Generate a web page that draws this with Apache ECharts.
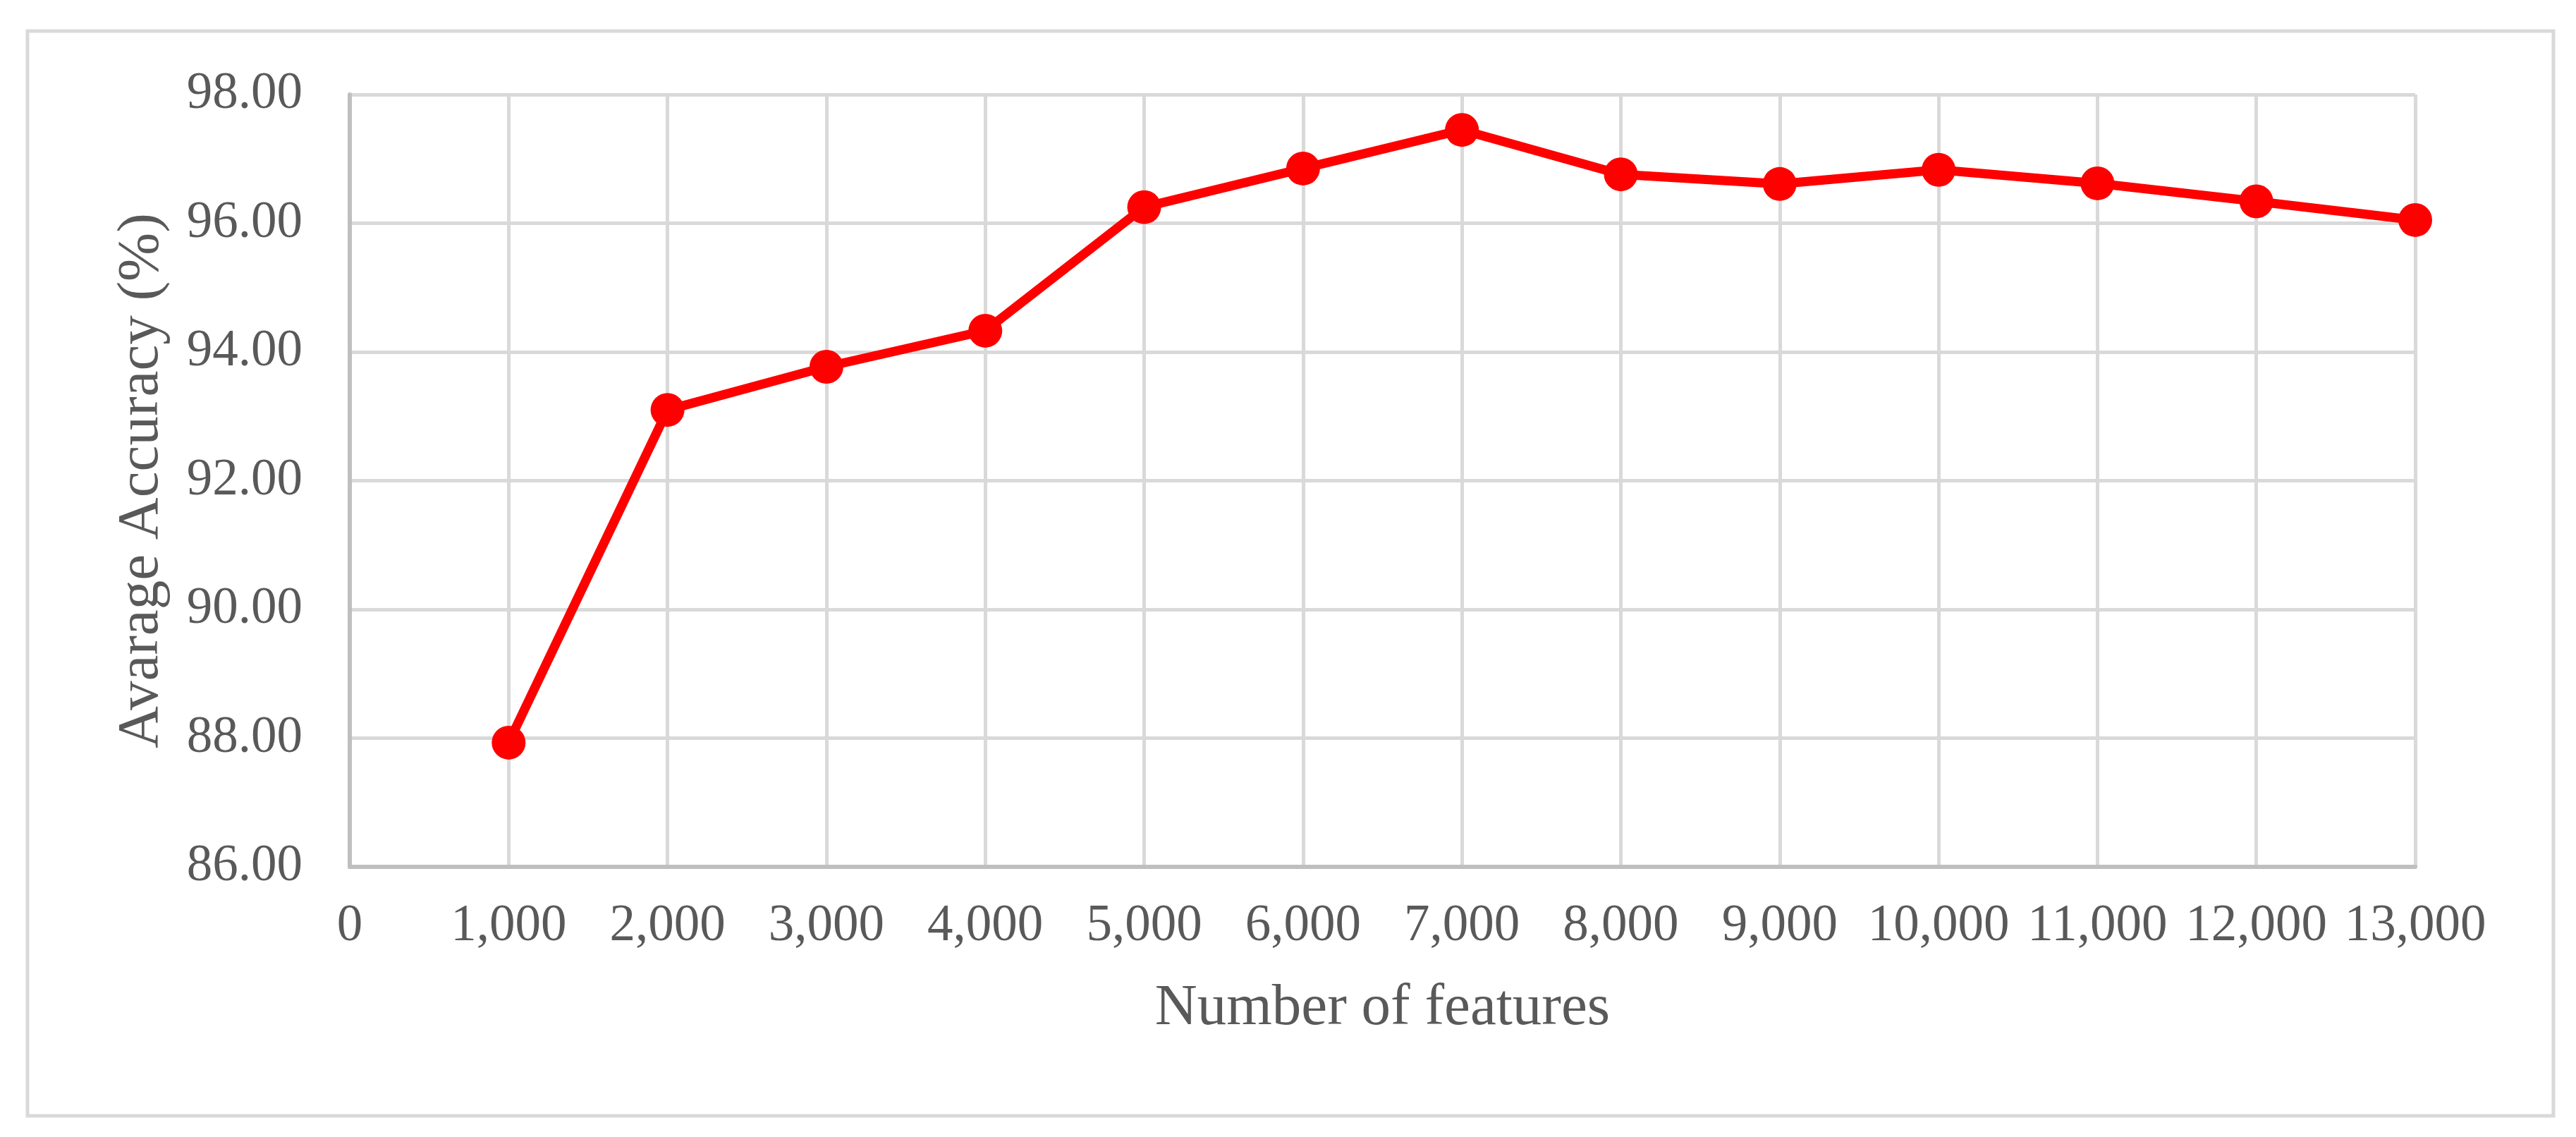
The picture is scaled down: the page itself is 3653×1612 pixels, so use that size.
<!DOCTYPE html>
<html>
<head>
<meta charset="utf-8">
<script src="https://cdn.jsdelivr.net/npm/echarts@6/dist/echarts.min.js"></script>
<style>
  html, body { margin: 0; padding: 0; background: #fff; }
  #chart { width: 3653px; height: 1612px; }
</style>
</head>
<body>
<div id="chart"></div>
<script>
// number of features on the x axis
const features = [1000, 2000, 3000, 4000, 5000, 6000, 7000, 8000, 9000, 10000, 11000, 12000, 13000];
// average accuracy in percent
const accuracy = [87.93, 93.10, 93.77, 94.33, 96.25, 96.85, 97.45, 96.76, 96.61, 96.83, 96.62, 96.34, 96.05];

const xName = 'Number of features';
const yName = 'Avarage Accuracy (%)';

const font = "'Liberation Serif', 'Times New Roman', serif";
const textGrey = '#595959';

const chart = echarts.init(document.getElementById('chart'));

const option = {
  backgroundColor: '#fff',
  animation: false,
  graphic: [{
    type: 'rect',
    shape: { x: 39, y: 44, width: 3582, height: 1538 },
    style: { fill: 'none', stroke: '#d9d9d9', lineWidth: 5 },
    silent: true
  }],
  grid: { left: 496, right: 228, top: 134, bottom: 383 },
  xAxis: {
    type: 'value',
    min: 0,
    max: 13000,
    interval: 1000,
    name: xName,
    nameLocation: 'middle',
    nameGap: 160,
    nameMoveOverlap: false,
    nameTextStyle: { fontFamily: font, fontSize: 83, color: textGrey },
    axisLine: { show: true, lineStyle: { color: '#bfbfbf', width: 6 } },
    axisTick: { show: false },
    axisLabel: {
      margin: 48,
      fontFamily: font,
      fontSize: 73,
      color: textGrey,
      formatter: v => v.toLocaleString('en-US')
    },
    splitLine: { show: true, lineStyle: { color: '#d9d9d9', width: 5 } }
  },
  yAxis: {
    type: 'value',
    min: 86,
    max: 98,
    interval: 2,
    name: yName,
    nameLocation: 'middle',
    nameGap: 253,
    nameMoveOverlap: false,
    nameTextStyle: { fontFamily: font, fontSize: 83, color: textGrey },
    axisLine: { show: true, lineStyle: { color: '#bfbfbf', width: 6 } },
    axisTick: { show: false },
    axisLabel: {
      margin: 67,
      fontFamily: font,
      fontSize: 73,
      color: textGrey,
      formatter: v => v.toFixed(2)
    },
    splitLine: { show: true, lineStyle: { color: '#d9d9d9', width: 5 } }
  },
  series: [{
    type: 'line',
    data: features.map((f, i) => [f, accuracy[i]]),
    symbol: 'circle',
    symbolSize: 48,
    lineStyle: { color: '#ff0000', width: 13 },
    itemStyle: { color: '#ff0000' },
    z: 10
  }]
};

chart.setOption(option);
</script>
</body>
</html>
